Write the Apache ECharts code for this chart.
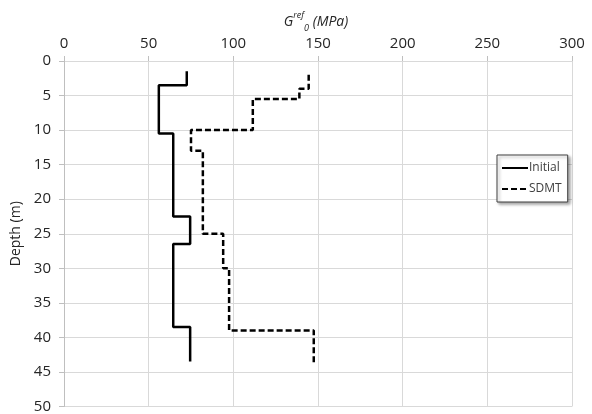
<!DOCTYPE html>
<html>
<head>
<meta charset="utf-8">
<script src="https://cdn.jsdelivr.net/npm/echarts@6/dist/echarts.min.js"></script>
<style>html,body{margin:0;padding:0;background:#fff;}#c{width:592px;height:414px;}</style>
</head>
<body>
<div id="c"></div>
<script>
// Data (G0ref in MPa vs depth in m)
var initialG     = [72.5, 72.5, 56, 56, 64.5, 64.5, 74.5, 74.5, 64.5, 64.5, 74.5, 74.5];
var initialDepth = [1.5, 3.5, 3.5, 10.5, 10.5, 22.5, 22.5, 26.5, 26.5, 38.5, 38.5, 43.5];
var sdmtG        = [144.5, 144.5, 139, 139, 111.5, 111.5, 75, 75, 82, 82, 94, 94, 97.5, 97.5, 147.5, 147.5];
var sdmtDepth    = [2, 4, 4, 5.5, 5.5, 10, 10, 13, 13, 25, 25, 30, 30, 39, 39, 44];
var xTicks = [0, 300, 50];   // min, max, interval
var yTicks = [0, 50, 5];
var seriesNames = ['Initial', 'SDMT'];

function pairs(xs, ys) { return xs.map(function (v, i) { return [v, ys[i]]; }); }

var font = '"Open Sans", "Noto Sans", sans-serif';
var txt = '#262626';
var chart = echarts.init(document.getElementById('c'), null, {renderer: 'canvas'});
chart.setOption({
  animation: false,
  backgroundColor: '#fff',
  textStyle: {fontFamily: font},
  title: {
    text: '{g|G}{sup|ref}{sub|0}{g| (MPa)}',
    left: 311, top: 6, textAlign: 'center',
    textStyle: {
      fontWeight: 'normal',
      rich: {
        g: {fontSize: 14, fontStyle: 'italic', fontWeight: 'normal', color: txt, fontFamily: font, lineHeight: 22, verticalAlign: 'middle'},
        sup: {fontSize: 9, fontStyle: 'italic', fontWeight: 'normal', color: txt, fontFamily: font, lineHeight: 22, verticalAlign: 'top'},
        sub: {fontSize: 9, fontStyle: 'italic', fontWeight: 'normal', color: txt, fontFamily: font, lineHeight: 22, verticalAlign: 'bottom'}
      }
    }
  },
  grid: {left: 64, top: 61, width: 508, height: 350, containLabel: false},
  legend: {
    orient: 'vertical',
    left: 497, top: 155,
    padding: [7, 6, 7, 4],
    itemGap: 9,
    itemWidth: 26, itemHeight: 14,
    borderColor: '#404040', borderWidth: 1,
    backgroundColor: '#fff',
    shadowColor: 'rgba(0,0,0,0.35)', shadowBlur: 3, shadowOffsetX: 2, shadowOffsetY: 2,
    itemStyle: {opacity: 0},
    textStyle: {fontSize: 12, color: '#404040', fontFamily: font, padding: [0, 0, 0, -4]},
    data: seriesNames
  },
  xAxis: {
    type: 'value', position: 'top',
    min: xTicks[0], max: xTicks[1], interval: xTicks[2],
    axisLine: {show: false},
    axisTick: {show: true, length: 5, lineStyle: {color: '#bfbfbf'}},
    axisLabel: {fontSize: 15, color: txt, margin: 10, fontFamily: font},
    splitLine: {show: true, lineStyle: {color: '#d9d9d9', width: 1}}
  },
  yAxis: {
    type: 'value', inverse: true,
    min: yTicks[0], max: yTicks[1], interval: yTicks[2],
    name: 'Depth (m)', nameLocation: 'middle', nameGap: 35,
    nameTextStyle: {fontSize: 14, color: txt, fontFamily: font},
    axisLine: {show: true, lineStyle: {color: '#bfbfbf'}},
    axisTick: {show: true, length: 5, lineStyle: {color: '#bfbfbf'}},
    axisLabel: {fontSize: 15, color: txt, margin: 13, fontFamily: font},
    splitLine: {show: true, lineStyle: {color: '#d9d9d9', width: 1}}
  },
  series: [
    {
      name: seriesNames[0], type: 'line', symbol: 'none',
      data: pairs(initialG, initialDepth),
      lineStyle: {color: '#000', width: 2.5, type: 'solid'},
      itemStyle: {color: '#000'}
    },
    {
      name: seriesNames[1], type: 'line', symbol: 'none',
      data: pairs(sdmtG, sdmtDepth),
      lineStyle: {color: '#000', width: 2.5, type: [6, 3]},
      itemStyle: {color: '#000'}
    }
  ]
});
</script>
</body>
</html>
